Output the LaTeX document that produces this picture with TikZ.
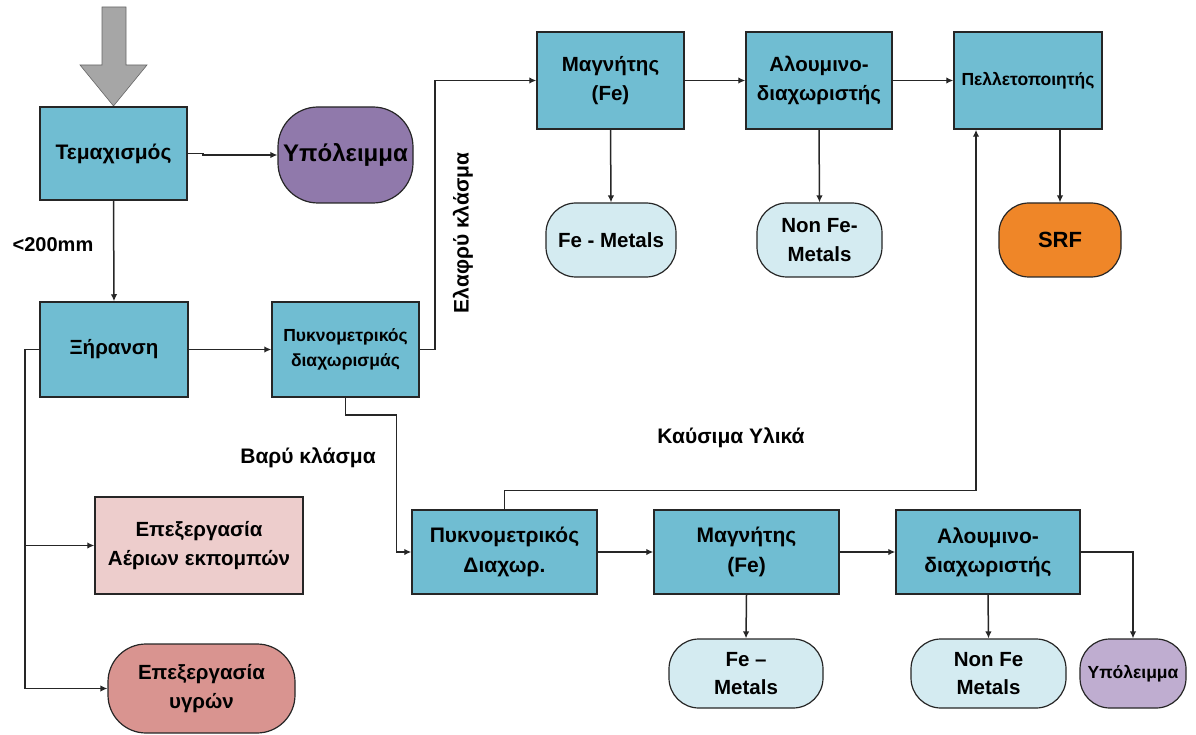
\documentclass[tikz,border=0pt]{standalone}
\usepackage{fontspec}
\setmainfont{Liberation Sans}
\usetikzlibrary{arrows.meta}
\definecolor{boxcyan}{HTML}{70BDD2}
\definecolor{paleblue}{HTML}{D4EBF1}
\definecolor{purp}{HTML}{9079AB}
\definecolor{lpurp}{HTML}{BFADD0}
\definecolor{pinkbox}{HTML}{EDCDCC}
\definecolor{salmon}{HTML}{D99490}
\definecolor{orng}{HTML}{EF8628}
\definecolor{arrgray}{HTML}{A6A6A6}
\newcommand\fsel[1]{\fontsize{#1}{\dimexpr#1pt*7/5\relax}\selectfont}
\tikzset{
  fsz/.style={font=\bfseries\fsel{#1}},
  proc/.style={draw=black!85, line width=1.5pt, fill=boxcyan, align=center, inner sep=0pt},
  term/.style={draw=black!85, line width=1.2pt, align=center, inner sep=0pt, rounded corners=30pt},
  conn/.style={line width=1.5pt, draw=black!85},
  arr/.style={conn, -{Latex[length=7pt,width=6.5pt]}},
  lbl/.style={fsz=21, inner sep=0pt}
}
\begin{document}
\begin{tikzpicture}[x=1pt,y=-1pt]
\useasboundingbox (0,0) rectangle (1196,735);
% input arrow
\draw[fill=arrgray, draw=black!60, line width=0.6pt]
  (102,7) -- (126,7) -- (126,65) -- (147,65) -- (113.5,106) -- (80,65) -- (102,65) -- cycle;
% process boxes
\node[proc, fsz=21, minimum width=147pt, minimum height=93pt] (tem) at (113.5,153.5) {Τεμαχισμός};
\node[proc, fsz=20.5, minimum width=148pt, minimum height=95pt] (xir) at (114,349.5) {Ξήρανση};
\node[proc, fsz=17.5, minimum width=147pt, minimum height=95pt] (pyk1) at (345.5,349.5) {Πυκνομετρικός\\διαχωρισμάς};
\node[proc, fsz=20.5, minimum width=147pt, minimum height=97pt] (mag1) at (610.5,80.5) {Μαγνήτης\\(Fe)};
\node[proc, fsz=20.5, minimum width=146pt, minimum height=97pt] (alu1) at (819,80.5) {Αλουμινο-\\διαχωριστής};
\node[proc, fsz=17.5, minimum width=148pt, minimum height=97pt] (pel) at (1028,80.5) {Πελλετοποιητής};
\node[proc, fsz=21, minimum width=185pt, minimum height=84pt] (pyk2) at (504.5,552) {Πυκνομετρικός\\Διαχωρ.};
\node[proc, fsz=21, minimum width=185pt, minimum height=84pt] (mag2) at (746.5,552) {Μαγνήτης\\(Fe)};
\node[proc, fsz=21, minimum width=184pt, minimum height=84pt] (alu2) at (988,552) {Αλουμινο-\\διαχωριστής};
\node[proc, fill=pinkbox, fsz=20.5, minimum width=208pt, minimum height=97pt] (aer) at (199,545.5) {Επεξεργασία\\Αέριων εκπομπών};
% terminals
\node[term, fill=purp, fsz=24, minimum width=135pt, minimum height=96pt, rounded corners=40pt] (ypo1) at (345.5,155) {Υπόλειμμα};
\node[term, fill=paleblue, fsz=20.5, minimum width=130pt, minimum height=74pt] (fem1) at (611,240) {Fe - Metals};
\node[term, fill=paleblue, fsz=20.5, minimum width=125pt, minimum height=74pt] (nfe1) at (819.5,240) {Non Fe-\\Metals};
\node[term, fill=orng, fsz=22, minimum width=122pt, minimum height=74pt] (srf) at (1060,240) {SRF};
\node[term, fill=salmon, fsz=20.5, minimum width=187pt, minimum height=89pt, rounded corners=38pt] (ygr) at (201.5,688.5) {Επεξεργασία\\υγρών};
\node[term, fill=paleblue, fsz=20.5, minimum width=154pt, minimum height=69pt] (fem2) at (746,673.5) {Fe –\\Metals};
\node[term, fill=paleblue, fsz=20.5, minimum width=155pt, minimum height=69pt] (nfe2) at (988.5,673.5) {Non Fe\\Metals};
\node[term, fill=lpurp, fsz=17.5, minimum width=106pt, minimum height=69pt] (ypo2) at (1133,673.5) {Υπόλειμμα};
% labels
\node[lbl, fsz=20] (mm) at (53,245) {<200mm};
\node[lbl] (baru) at (308,458) {Βαρύ κλάσμα};
\node[lbl, rotate=90] (elaf) at (463,233) {Ελαφρύ κλάσμα};
\node[lbl] (kaus) at (731,438) {Καύσιμα Υλικά};
% connectors
\draw[arr] (tem.east) -- ++(15,0) |- (ypo1.west);
\draw[arr] (tem.south) -- (xir.north);
\draw[arr] (xir.east) -- (pyk1.west);
\coordinate (lx) at (25,0);
\draw[arr] (xir.west) -- (xir.west -| lx) |- (ygr.west);
\draw[arr] (aer.west -| lx) -- (aer.west);
\draw[arr] (pyk1.east) -- ++(15,0) |- (mag1.west);
\draw[arr] (pyk1.south) -- ++(0,17) -| ([xshift=-15pt]pyk2.west) -- (pyk2.west);
\draw[arr] (mag1.east) -- (alu1.west);
\draw[arr] (alu1.east) -- (pel.west);
\draw[arr] (mag1.south) -- (fem1.north);
\draw[arr] (alu1.south) -- (nfe1.north);
\draw[arr] (srf.north |- pel.south) -- (srf.north);
\draw[arr] (pyk2.north) -- ++(0,-19) -| ([xshift=-52pt]pel.south);
\draw[arr] (pyk2.east) -- (mag2.west);
\draw[arr] (mag2.east) -- (alu2.west);
\draw[arr] (mag2.south) -- (fem2.north);
\draw[arr] (alu2.south) -- (nfe2.north);
\draw[arr] (alu2.east) -| (ypo2.north);
\end{tikzpicture}
\end{document}
